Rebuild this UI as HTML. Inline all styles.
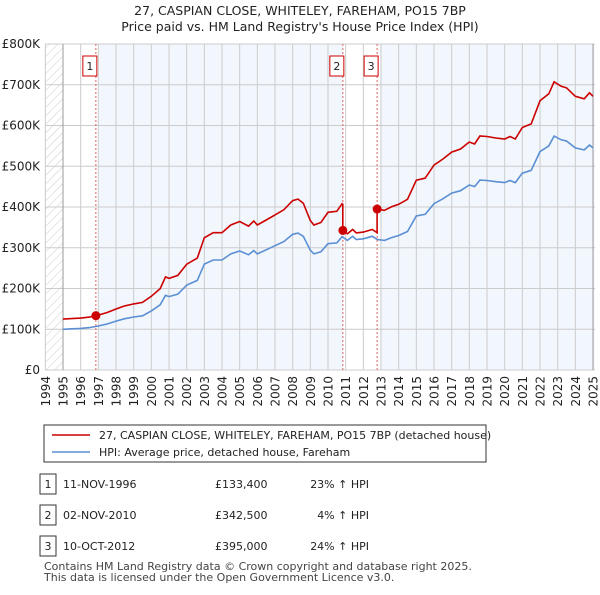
<!DOCTYPE html>
<html><head><meta charset="utf-8"><style>
body{margin:0;background:#fff;font-family:"Liberation Sans","DejaVu Sans",sans-serif;}
</style></head><body>
<svg id="c" width="600" height="590" xmlns="http://www.w3.org/2000/svg" font-family="DejaVu Sans, Liberation Sans, sans-serif">
<defs><pattern id="hatch" width="6" height="6" patternUnits="userSpaceOnUse" patternTransform="rotate(45)"><line x1="0" y1="0" x2="0" y2="6" stroke="#ccc" stroke-width="1"/></pattern></defs>
<text x="300" y="15" text-anchor="middle" font-size="12.5" fill="#222">27, CASPIAN CLOSE, WHITELEY, FAREHAM, PO15 7BP</text>
<text x="300" y="31" text-anchor="middle" font-size="12.5" fill="#222">Price paid vs. HM Land Registry's House Price Index (HPI)</text>
<g id="plot"></g>
<g>
<rect x="44" y="425" width="442" height="37" fill="#fff" stroke="#333" stroke-width="1"/>
<line x1="52" y1="435" x2="90" y2="435" stroke="#cc0000" stroke-width="1.6"/>
<text x="99" y="439" font-size="11" fill="#222">27, CASPIAN CLOSE, WHITELEY, FAREHAM, PO15 7BP (detached house)</text>
<line x1="52" y1="452" x2="90" y2="452" stroke="#5b8fd4" stroke-width="1.6"/>
<text x="99" y="456" font-size="11" fill="#222">HPI: Average price, detached house, Fareham</text>
</g>
<g id="table" font-size="11" fill="#222"></g>
<text x="44" y="570" font-size="11" fill="#444">Contains HM Land Registry data © Crown copyright and database right 2025.</text>
<text x="44" y="581" font-size="11" fill="#444">This data is licensed under the Open Government Licence v3.0.</text>
</svg>
<script>
const hpiYears=[1995,1995.5,1996,1996.5,1997,1997.5,1998,1998.5,1999,1999.5,2000,2000.5,2000.8,2001,2001.5,2002,2002.6,2003,2003.5,2004,2004.5,2005,2005.5,2005.8,2006,2006.5,2007,2007.5,2008,2008.3,2008.6,2009,2009.2,2009.6,2010,2010.5,2010.8,2011.1,2011.4,2011.6,2012,2012.5,2012.8,2013.2,2013.6,2014,2014.5,2015,2015.5,2016,2016.5,2017,2017.5,2018,2018.3,2018.6,2019,2019.5,2020,2020.3,2020.6,2021,2021.5,2022,2022.5,2022.8,2023.2,2023.5,2024,2024.5,2024.8,2025];
const hpiValues=[100,101,102,104,108,113,120,126,130,133,145,160,183,180,186,208,220,260,270,270,285,292,283,293,285,295,305,315,333,336,328,294,285,290,310,312,327,318,328,320,322,328,320,318,325,330,340,378,382,408,420,434,440,454,450,466,465,462,460,465,460,483,490,536,550,574,565,562,545,540,552,545];
const saleLabels=['1','2','3'];
const saleDates=[1996.86,2010.84,2012.78];
const saleDateText=['11-NOV-1996','02-NOV-2010','10-OCT-2012'];
const salePrices=[133400,342500,395000];
const salePriceText=['£133,400','£342,500','£395,000'];
const salePctText=['23% ↑ HPI','4% ↑ HPI','24% ↑ HPI'];
const yTicks=[0,100,200,300,400,500,600,700,800];
const yTickLabels=['£0','£100K','£200K','£300K','£400K','£500K','£600K','£700K','£800K'];
const xTicks=[1994,1995,1996,1997,1998,1999,2000,2001,2002,2003,2004,2005,2006,2007,2008,2009,2010,2011,2012,2013,2014,2015,2016,2017,2018,2019,2020,2021,2022,2023,2024,2025];

const NS='http://www.w3.org/2000/svg';
const L=45,R=595,T=44,B=370;
const X=y=>63+(y-1995)*17.667;
const Y=v=>B-(v/800)*(B-T);
function mk(tag,attrs,parent){const e=document.createElementNS(NS,tag);for(const k in attrs)e.setAttribute(k,attrs[k]);parent.appendChild(e);return e;}
function hpiAt(t){for(let i=0;i<hpiYears.length-1;i++){if(t<=hpiYears[i+1]){const f=(t-hpiYears[i])/(hpiYears[i+1]-hpiYears[i]);return hpiValues[i]+f*(hpiValues[i+1]-hpiValues[i]);}}return hpiValues[hpiValues.length-1];}
const g=document.getElementById('plot');
let e=mk('rect',{x:L,y:T,width:R-L,height:B-T,fill:'#fff'},g);

const spans=[[saleDates[0],saleDates[1]],[saleDates[2],2025.1]];
spans.forEach(s=>{const r=mk('rect',{x:X(s[0])+3,y:T,width:Math.min(R,X(s[1]))-X(s[0])-3,height:B-T,fill:'#f2f6fd'},g);
});
e=mk('rect',{x:L,y:T,width:X(1995)-L,height:B-T,fill:'url(#hatch)'},g);

yTicks.forEach((v,i)=>{const l=mk('line',{x1:L,x2:R,y1:Y(v),y2:Y(v),stroke:'#ccc','stroke-width':1},g);

const t=mk('text',{x:40,y:Y(v)+4,'text-anchor':'end','font-size':12,fill:'#222'},g);t.textContent=yTickLabels[i];
});
xTicks.forEach(yr=>{const l=mk('line',{x1:X(yr),x2:X(yr),y1:T,y2:B,stroke:'#ccc','stroke-width':1},g);

const t=mk('text',{x:0,y:0,'text-anchor':'end','font-size':12,fill:'#222',transform:`translate(${X(yr)+4.5},${B+6}) rotate(-90)`},g);t.textContent=yr;
});
e=mk('line',{x1:X(1995),x2:X(1995),y1:T,y2:B,stroke:'#999'},g);
e=mk('line',{x1:X(2025),x2:X(2025),y1:T,y2:B,stroke:'#999'},g);
saleDates.forEach((d,i)=>{const l=mk('line',{x1:X(d),x2:X(d),y1:T,y2:B,stroke:'#e06060','stroke-dasharray':'2,2','stroke-width':1},g);

const r=mk('rect',{x:X(d)-13,y:56,width:14,height:20,fill:'#fff',stroke:'#cc0000'},g);

const t=mk('text',{x:X(d)-6,y:70,'text-anchor':'middle','font-size':11,fill:'#222'},g);t.textContent=saleLabels[i];
});
let p=hpiYears.map((t,i)=>(i?'L':'M')+X(t).toFixed(1)+','+Y(hpiValues[i]).toFixed(1)).join('');
e=mk('path',{d:p,fill:'none',stroke:'#5b8fd4','stroke-width':1.6},g);

const factors=saleDates.map((d,i)=>salePrices[i]/1000/hpiAt(d));
function fac(t){let f=factors[0];saleDates.forEach((d,i)=>{if(t>=d)f=factors[i];});return f;}
let pts=hpiYears.map(t=>[t,hpiAt(t)*fac(t)]);
saleDates.forEach((d,i)=>{if(i>0)pts.push([d-0.001,hpiAt(d)*factors[i-1]]);pts.push([d,salePrices[i]/1000]);});
pts.sort((a,b)=>a[0]-b[0]);
p=pts.map((q,i)=>(i?'L':'M')+X(q[0]).toFixed(1)+','+Y(q[1]).toFixed(1)).join('');
e=mk('path',{d:p,fill:'none',stroke:'#cc0000','stroke-width':1.6},g);

saleDates.forEach((d,i)=>{const c=mk('circle',{cx:X(d),cy:Y(salePrices[i]/1000),r:4.5,fill:'#cc0000'},g);
});
const tb=document.getElementById('table');
saleDates.forEach((d,i)=>{const y=484+i*31;
const r=mk('rect',{x:40,y:y-10,width:16,height:20,fill:'#fff',stroke:'#333'},tb);

let t=mk('text',{x:48,y:y+4,'text-anchor':'middle'},tb);t.textContent=saleLabels[i];

t=mk('text',{x:63,y:y+4},tb);t.textContent=saleDateText[i];

t=mk('text',{x:215,y:y+4},tb);t.textContent=salePriceText[i];

t=mk('text',{x:369,y:y+4,'text-anchor':'end'},tb);t.textContent=salePctText[i];
});
</script>
</body></html>
